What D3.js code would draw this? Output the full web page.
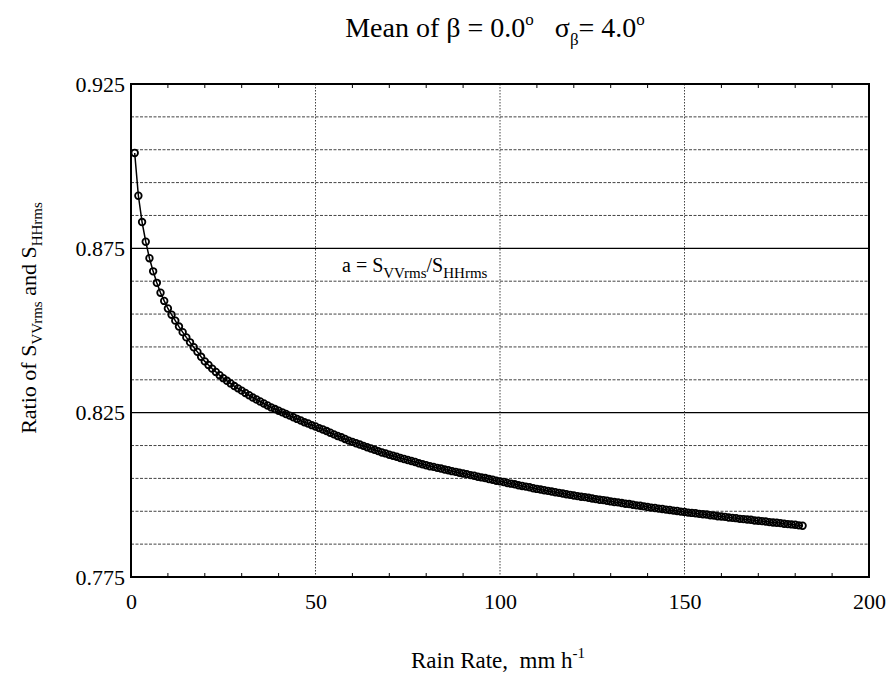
<!DOCTYPE html>
<html>
<head>
<meta charset="utf-8">
<script src="https://cdn.jsdelivr.net/npm/d3@7"></script>
<style>
  body { margin: 0; background: #fff; }
  svg { font-family: "Liberation Serif", "DejaVu Serif", serif; }
</style>
</head>
<body>
<svg id="chart" width="887" height="673"></svg>
<script>
// Rain rate (mm/h) and ratio a = S_VVrms / S_HHrms
const rainRate = [
  1, 2, 3, 4, 5, 6, 7, 8, 9, 10, 11, 12, 13, 14, 15, 16, 17, 18, 19, 20,
  21, 22, 23, 24, 25, 26, 27, 28, 29, 30, 31, 32, 33, 34, 35, 36, 37, 38, 39, 40,
  41, 42, 43, 44, 45, 46, 47, 48, 49, 50, 51, 52, 53, 54, 55, 56, 57, 58, 59, 60,
  61, 62, 63, 64, 65, 66, 67, 68, 69, 70, 71, 72, 73, 74, 75, 76, 77, 78, 79, 80,
  81, 82, 83, 84, 85, 86, 87, 88, 89, 90, 91, 92, 93, 94, 95, 96, 97, 98, 99, 100,
  101, 102, 103, 104, 105, 106, 107, 108, 109, 110, 111, 112, 113, 114, 115, 116, 117, 118, 119, 120,
  121, 122, 123, 124, 125, 126, 127, 128, 129, 130, 131, 132, 133, 134, 135, 136, 137, 138, 139, 140,
  141, 142, 143, 144, 145, 146, 147, 148, 149, 150, 151, 152, 153, 154, 155, 156, 157, 158, 159, 160,
  161, 162, 163, 164, 165, 166, 167, 168, 169, 170, 171, 172, 173, 174, 175, 176, 177, 178, 179, 180,
  181, 182
];
const ratio = [
  0.9040, 0.8910, 0.8830, 0.8770, 0.8720, 0.8680, 0.8645, 0.8615, 0.8590, 0.8567,
  0.8548, 0.8530, 0.8512, 0.8495, 0.8479, 0.8464, 0.8449, 0.8435, 0.8420, 0.8406,
  0.8395, 0.8384, 0.8374, 0.8364, 0.8355, 0.8347, 0.8339, 0.8331, 0.8324, 0.8317,
  0.8310, 0.8303, 0.8296, 0.8290, 0.8284, 0.8278, 0.8272, 0.8266, 0.8261, 0.8256,
  0.8251, 0.8246, 0.8241, 0.8236, 0.8231, 0.8226, 0.8221, 0.8217, 0.8212, 0.8208,
  0.8203, 0.8199, 0.8194, 0.8189, 0.8184, 0.8179, 0.8175, 0.8170, 0.8165, 0.8161,
  0.8157, 0.8153, 0.8149, 0.8145, 0.8141, 0.8137, 0.8133, 0.8129, 0.8126, 0.8122,
  0.8119, 0.8116, 0.8112, 0.8109, 0.8106, 0.8103, 0.8100, 0.8096, 0.8093, 0.8090,
  0.8087, 0.8085, 0.8082, 0.8080, 0.8077, 0.8075, 0.8072, 0.8070, 0.8067, 0.8065,
  0.8063, 0.8060, 0.8058, 0.8055, 0.8053, 0.8051, 0.8048, 0.8046, 0.8043, 0.8041,
  0.8039, 0.8036, 0.8034, 0.8032, 0.8029, 0.8027, 0.8025, 0.8023, 0.8020, 0.8018,
  0.8016, 0.8014, 0.8012, 0.8010, 0.8008, 0.8006, 0.8004, 0.8002, 0.8000, 0.7998,
  0.7996, 0.7994, 0.7993, 0.7991, 0.7989, 0.7987, 0.7985, 0.7984, 0.7982, 0.7980,
  0.7978, 0.7977, 0.7975, 0.7973, 0.7972, 0.7970, 0.7968, 0.7967, 0.7965, 0.7963,
  0.7961, 0.7960, 0.7958, 0.7957, 0.7955, 0.7954, 0.7952, 0.7951, 0.7949, 0.7948,
  0.7946, 0.7945, 0.7944, 0.7942, 0.7941, 0.7940, 0.7938, 0.7937, 0.7935, 0.7934,
  0.7933, 0.7931, 0.7930, 0.7929, 0.7927, 0.7926, 0.7925, 0.7924, 0.7922, 0.7921,
  0.7920, 0.7919, 0.7917, 0.7916, 0.7915, 0.7914, 0.7912, 0.7911, 0.7910, 0.7909,
  0.7907, 0.7906
];

const xTicks = [0, 50, 100, 150, 200];
const yTicks = [0.775, 0.825, 0.875, 0.925];
const yGrid = [0.785, 0.795, 0.805, 0.815, 0.835, 0.845, 0.855, 0.865, 0.885, 0.895, 0.905, 0.915];
const xMinorTicks = [10, 20, 30, 40, 60, 70, 80, 90, 110, 120, 130, 140, 160, 170, 180, 190];

const plotL = 131, plotR = 869, plotT = 84, plotB = 577;

const svg = d3.select('#chart');

const x = d3.scaleLinear().domain([0, 200]).range([plotL, plotR]);
const y = d3.scaleLinear().domain([0.775, 0.925]).range([plotB, plotT]);

// minor horizontal gridlines (dotted)
svg.append('g')
  .selectAll('line')
  .data(yGrid)
  .enter().append('line')
  .attr('x1', plotL).attr('x2', plotR)
  .attr('y1', d => y(d)).attr('y2', d => y(d))
  .attr('stroke', '#444')
  .attr('stroke-width', 1)
  .attr('stroke-dasharray', '3,1.5');

// major horizontal gridlines (solid)
svg.append('g')
  .selectAll('line')
  .data([0.825, 0.875])
  .enter().append('line')
  .attr('x1', plotL).attr('x2', plotR)
  .attr('y1', d => y(d)).attr('y2', d => y(d))
  .attr('stroke', '#000')
  .attr('stroke-width', 1.3);

// vertical gridlines (dotted)
svg.append('g')
  .selectAll('line')
  .data([50, 100, 150])
  .enter().append('line')
  .attr('x1', d => x(d)).attr('x2', d => x(d))
  .attr('y1', plotT).attr('y2', plotB)
  .attr('stroke', '#444')
  .attr('stroke-width', 1)
  .attr('stroke-dasharray', '1.5,1.5');

// minor ticks on top and bottom
const minor = svg.append('g').attr('stroke', '#000').attr('stroke-width', 1);
minor.selectAll('.tb')
  .data(xMinorTicks)
  .enter().append('line')
  .attr('x1', d => x(d)).attr('x2', d => x(d))
  .attr('y1', plotB).attr('y2', plotB - 4);
minor.selectAll('.tt')
  .data(xMinorTicks)
  .enter().append('line')
  .attr('x1', d => x(d)).attr('x2', d => x(d))
  .attr('y1', plotT).attr('y2', plotT + 4);

// frame
svg.append('rect')
  .attr('x', plotL).attr('y', plotT)
  .attr('width', plotR - plotL).attr('height', plotB - plotT)
  .attr('fill', 'none')
  .attr('stroke', '#000')
  .attr('stroke-width', 2);

// axes labels via d3 axes
const xAxis = svg.append('g')
  .attr('transform', `translate(0,${plotB})`)
  .call(d3.axisBottom(x).tickValues(xTicks).tickSize(0).tickPadding(16).tickFormat(d3.format('d')));
xAxis.select('.domain').remove();
xAxis.selectAll('text')
  .attr('font-family', '"Liberation Serif", serif')
  .attr('font-size', 22)
  .attr('fill', '#000');

const yAxis = svg.append('g')
  .attr('transform', `translate(${plotL},0)`)
  .call(d3.axisLeft(y).tickValues(yTicks).tickSize(0).tickPadding(6).tickFormat(d3.format('.3f')));
yAxis.select('.domain').remove();
yAxis.selectAll('text')
  .attr('font-family', '"Liberation Serif", serif')
  .attr('font-size', 22)
  .attr('fill', '#000');

// data line and circle markers
const pts = rainRate.map((r, i) => [r, ratio[i]]);

svg.append('path')
  .datum(pts)
  .attr('fill', 'none')
  .attr('stroke', '#000')
  .attr('stroke-width', 1.5)
  .attr('d', d3.line().x(d => x(d[0])).y(d => y(d[1])));

svg.append('g')
  .selectAll('circle')
  .data(pts)
  .enter().append('circle')
  .attr('cx', d => x(d[0]))
  .attr('cy', d => y(d[1]))
  .attr('r', 3.3)
  .attr('fill', 'none')
  .attr('stroke', '#000')
  .attr('stroke-width', 1.8);

// title
const title = svg.append('text')
  .attr('x', 495).attr('y', 37)
  .attr('text-anchor', 'middle')
  .attr('font-size', 28)
  .attr('fill', '#000');
title.append('tspan').text('Mean of β = 0.0');
title.append('tspan').attr('font-size', 17).attr('dy', -12).text('o');
title.append('tspan').attr('dy', 12).text('\u00a0\u00a0\u00a0σ');
title.append('tspan').attr('font-size', 17).attr('dy', 8).text('β');
title.append('tspan').attr('dy', -8).text('= 4.0');
title.append('tspan').attr('font-size', 17).attr('dy', -12).text('o');

// x axis title
const xt = svg.append('text')
  .attr('x', 498).attr('y', 668)
  .attr('text-anchor', 'middle')
  .attr('font-size', 23)
  .attr('fill', '#000');
xt.append('tspan').text('Rain Rate,\u00a0\u00a0mm h');
xt.append('tspan').attr('font-size', 15).attr('dy', -10).text('-1');

// y axis title
const yt = svg.append('text')
  .attr('transform', 'translate(36,318) rotate(-90)')
  .attr('text-anchor', 'middle')
  .attr('font-size', 22)
  .attr('fill', '#000');
yt.append('tspan').text('Ratio of S');
yt.append('tspan').attr('font-size', 15).attr('dy', 6).text('VVrms');
yt.append('tspan').attr('dy', -6).text(' and S');
yt.append('tspan').attr('font-size', 15).attr('dy', 6).text('HHrms');

// annotation
const ann = svg.append('text')
  .attr('x', 342).attr('y', 272)
  .attr('font-size', 20)
  .attr('fill', '#000');
ann.append('tspan').text('a = S');
ann.append('tspan').attr('font-size', 15).attr('dy', 6).text('VVrms');
ann.append('tspan').attr('dy', -6).text('/S');
ann.append('tspan').attr('font-size', 15).attr('dy', 6).text('HHrms');
</script>
</body>
</html>
